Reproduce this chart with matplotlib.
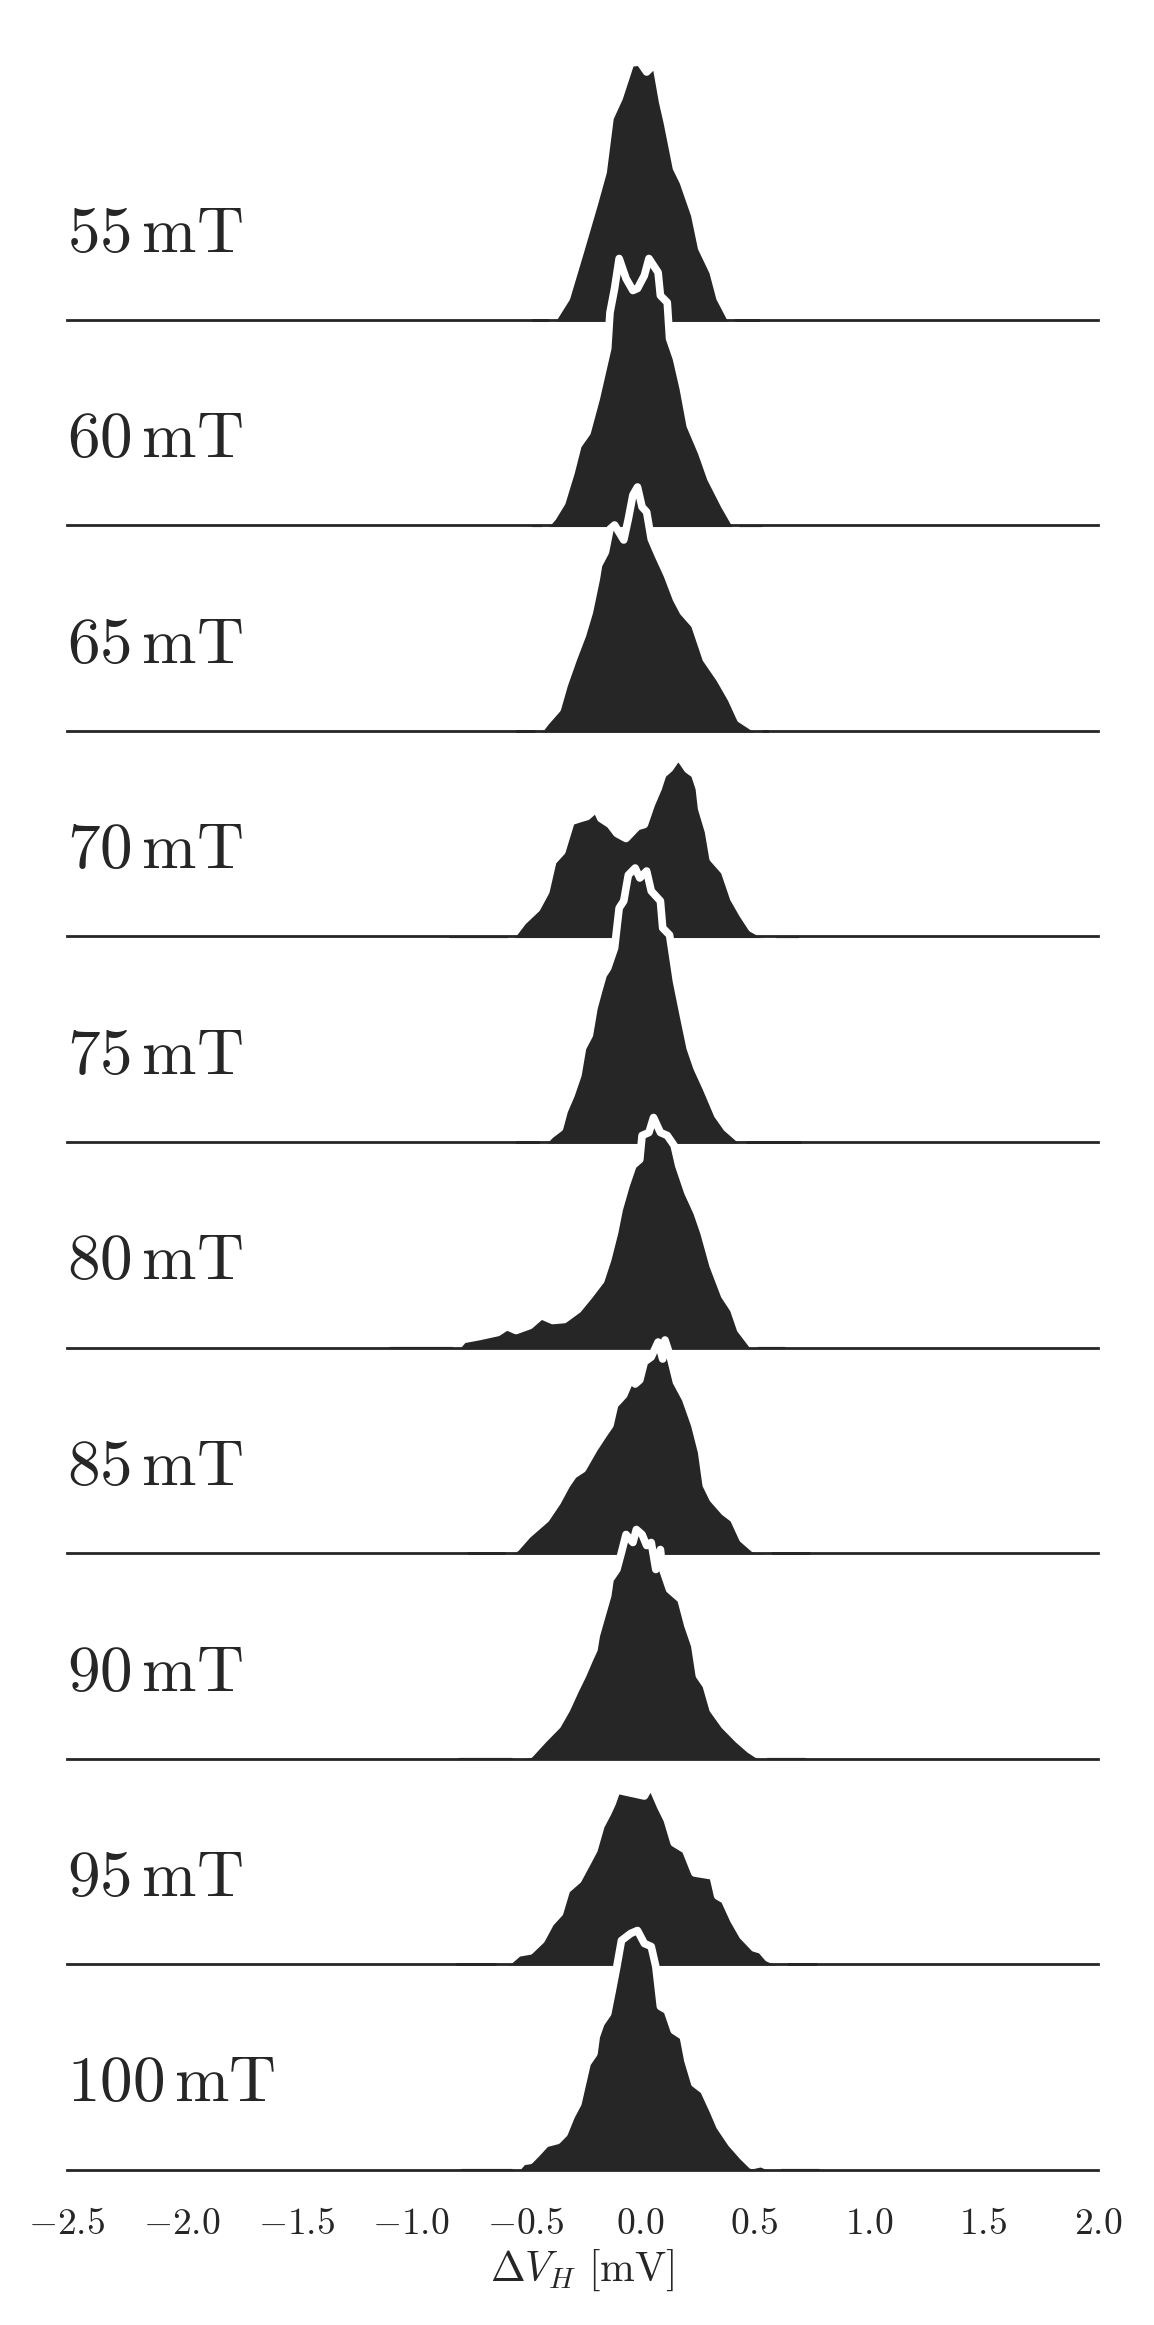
import matplotlib
matplotlib.use("Agg")
import matplotlib.pyplot as plt
import numpy as np

plt.rcParams['mathtext.fontset'] = 'cm'
plt.rcParams['font.family'] = 'serif'

INK = '#262626'

# field values (mT) and the density estimates
fields = [55, 60, 65, 70, 75, 80, 85, 90, 95, 100]

x55 = [-0.47, -0.38, -0.32, -0.26, -0.20, -0.16, -0.13, -0.09, -0.04, 0.00, 0.03,
       0.07, 0.10, 0.12, 0.16, 0.19, 0.24, 0.27, 0.32, 0.35, 0.40, 0.52]
y55 = [0, 0, 0.22, 0.68, 1.15, 1.48, 2.02, 2.22, 2.57, 2.58, 2.48,
       2.57, 2.18, 1.98, 1.52, 1.38, 1.05, 0.72, 0.48, 0.22, 0, 0]

x60 = [-0.47, -0.41, -0.38, -0.34, -0.30, -0.27, -0.23, -0.19, -0.17, -0.14,
       -0.13, -0.11, -0.09, -0.06, -0.03, -0.01, 0.02, 0.04, 0.08, 0.09,
       0.12, 0.13, 0.16, 0.19, 0.22, 0.27, 0.31, 0.37, 0.42, 0.53]
y60 = [0, 0, 0.08, 0.23, 0.53, 0.80, 0.93, 1.27, 1.47, 1.77,
       2.13, 2.37, 2.67, 2.47, 2.35, 2.37, 2.50, 2.67, 2.53, 2.30,
       2.23, 1.87, 1.67, 1.37, 1.00, 0.73, 0.47, 0.20, 0, 0]

x65 = [-0.54, -0.44, -0.41, -0.36, -0.33, -0.29, -0.25, -0.22, -0.19, -0.18,
       -0.15, -0.13, -0.11, -0.07, -0.05, -0.03, -0.01, 0.01, 0.03, 0.05,
       0.08, 0.12, 0.16, 0.19, 0.24, 0.29, 0.35, 0.40, 0.44, 0.52, 0.56]
y65 = [0, 0, 0.09, 0.22, 0.46, 0.72, 0.96, 1.19, 1.52, 1.66,
       1.79, 2.02, 2.06, 1.91, 2.12, 2.36, 2.44, 2.24, 2.19, 1.92,
       1.76, 1.56, 1.32, 1.19, 1.06, 0.72, 0.52, 0.32, 0.12, 0, 0]

x70 = [-0.83, -0.56, -0.51, -0.45, -0.41, -0.38, -0.34, -0.30, -0.26, -0.23,
       -0.19, -0.17, -0.13, -0.10, -0.06, -0.01, 0.02, 0.05, 0.08, 0.10,
       0.13, 0.16, 0.18, 0.21, 0.24, 0.26, 0.27, 0.30, 0.32, 0.37,
       0.41, 0.45, 0.49, 0.53, 0.58, 0.69]
y70 = [0, 0, 0.15, 0.28, 0.45, 0.75, 0.85, 1.15, 1.18, 1.20,
       1.28, 1.18, 1.12, 1.03, 0.98, 1.10, 1.12, 1.32, 1.48, 1.62,
       1.68, 1.78, 1.77, 1.67, 1.62, 1.48, 1.28, 1.05, 0.78, 0.65,
       0.38, 0.22, 0.08, 0.03, 0, 0]

x75 = [-0.54, -0.42, -0.39, -0.35, -0.33, -0.30, -0.27, -0.25, -0.22, -0.20,
       -0.18, -0.16, -0.14, -0.11, -0.09, -0.07, -0.05, -0.02, 0.00, 0.03,
       0.05, 0.09, 0.10, 0.13, 0.16, 0.19, 0.22, 0.25, 0.29, 0.34,
       0.38, 0.45, 0.70]
y75 = [0, 0, 0.07, 0.14, 0.31, 0.47, 0.67, 0.94, 1.07, 1.34,
       1.51, 1.67, 1.74, 1.94, 2.34, 2.41, 2.67, 2.74, 2.64, 2.71,
       2.51, 2.41, 2.14, 2.07, 1.61, 1.27, 0.94, 0.74, 0.54, 0.27,
       0.14, 0, 0]

x80 = [-1.09, -0.80, -0.77, -0.70, -0.62, -0.58, -0.54, -0.48, -0.43, -0.38,
       -0.33, -0.27, -0.22, -0.17, -0.14, -0.11, -0.09, -0.06, -0.03, 0.00,
       0.01, 0.04, 0.06, 0.09, 0.12, 0.15, 0.17, 0.21, 0.25, 0.28,
       0.32, 0.37, 0.41, 0.44, 0.50, 0.63]
y80 = [0, 0, 0.08, 0.11, 0.15, 0.21, 0.17, 0.22, 0.32, 0.27,
       0.28, 0.38, 0.52, 0.67, 0.88, 1.15, 1.38, 1.62, 1.82, 1.88,
       2.12, 2.15, 2.30, 2.15, 2.12, 2.02, 1.82, 1.55, 1.35, 1.15,
       0.82, 0.52, 0.38, 0.18, 0, 0]

x85 = [-0.75, -0.57, -0.54, -0.49, -0.45, -0.41, -0.36, -0.32, -0.29, -0.25,
       -0.20, -0.16, -0.13, -0.11, -0.07, -0.04, -0.02, 0.00, 0.02, 0.05,
       0.08, 0.10, 0.11, 0.13, 0.16, 0.20, 0.24, 0.27, 0.29, 0.32,
       0.37, 0.41, 0.45, 0.50, 0.54, 0.56, 0.74]
y85 = [0, 0, 0.05, 0.18, 0.26, 0.34, 0.51, 0.68, 0.78, 0.84,
       1.04, 1.18, 1.28, 1.48, 1.58, 1.74, 1.69, 1.73, 1.91, 1.96,
       2.11, 1.94, 2.13, 1.99, 1.71, 1.54, 1.28, 1.01, 0.68, 0.54,
       0.41, 0.34, 0.14, 0.04, 0.03, 0, 0]

x90 = [-0.79, -0.54, -0.52, -0.48, -0.42, -0.36, -0.32, -0.28, -0.25, -0.22,
       -0.20, -0.19, -0.17, -0.14, -0.13, -0.10, -0.08, -0.06, -0.03, -0.015,
       0.01, 0.03, 0.05, 0.07, 0.09, 0.10, 0.13, 0.18, 0.21, 0.24,
       0.26, 0.29, 0.32, 0.37, 0.43, 0.48, 0.54, 0.72]
y90 = [0, 0, 0.03, 0.04, 0.19, 0.33, 0.49, 0.69, 0.83, 0.99,
       1.09, 1.23, 1.39, 1.63, 1.79, 1.89, 2.06, 2.24, 2.16, 2.29,
       2.24, 2.13, 2.16, 1.89, 2.09, 1.89, 1.69, 1.59, 1.33, 1.13,
       0.83, 0.73, 0.49, 0.33, 0.19, 0.09, 0, 0]

x95 = [-0.80, -0.61, -0.57, -0.53, -0.48, -0.43, -0.39, -0.35, -0.32, -0.27,
       -0.23, -0.20, -0.17, -0.14, -0.12, -0.10, -0.04, 0.02, 0.04, 0.06,
       0.09, 0.12, 0.15, 0.20, 0.24, 0.32, 0.34, 0.37, 0.41, 0.45,
       0.50, 0.53, 0.56, 0.61, 0.63, 0.77]
y95 = [0, 0, 0.03, 0.11, 0.13, 0.24, 0.41, 0.51, 0.74, 0.84,
       1.01, 1.14, 1.38, 1.51, 1.61, 1.74, 1.71, 1.68, 1.76, 1.74,
       1.58, 1.44, 1.21, 1.14, 0.91, 0.88, 0.68, 0.64, 0.44, 0.28,
       0.16, 0.14, 0.06, 0.01, 0, 0]

x100 = [-0.78, -0.54, -0.51, -0.48, -0.45, -0.41, -0.36, -0.33, -0.30, -0.27,
        -0.25, -0.23, -0.20, -0.19, -0.17, -0.14, -0.12, -0.10, -0.08, -0.04,
        -0.01, 0.02, 0.05, 0.07, 0.09, 0.12, 0.15, 0.19, 0.21, 0.24,
        0.28, 0.32, 0.35, 0.40, 0.45, 0.49, 0.53, 0.58, 0.60, 0.78]
y100 = [0, 0, 0.08, 0.09, 0.16, 0.26, 0.29, 0.36, 0.53, 0.66,
        0.86, 1.06, 1.16, 1.33, 1.46, 1.56, 1.79, 2.03, 2.29, 2.36,
        2.39, 2.26, 2.23, 2.03, 1.63, 1.59, 1.39, 1.33, 1.09, 0.86,
        0.79, 0.59, 0.43, 0.26, 0.13, 0.04, 0.06, 0.01, 0, 0]

xs = [x55, x60, x65, x70, x75, x80, x85, x90, x95, x100]
ys = [y55, y60, y65, y70, y75, y80, y85, y90, y95, y100]

xticks = [-2.5, -2.0, -1.5, -1.0, -0.5, 0.0, 0.5, 1.0, 1.5, 2.0]

W, H = 1154, 2325
fig = plt.figure(figsize=(W / 100, H / 100), dpi=100)
ax = fig.add_axes([67 / W, 1 - 2169.5 / H, (1098 - 67) / W, (2169.5 - 40) / H])
ax.set_facecolor('none')

spacing = 2.055
n = len(fields)
for i, (f, x, y) in enumerate(zip(fields, xs, ys)):
    off = (n - 1 - i) * spacing
    x = np.asarray(x)
    y = np.asarray(y)
    z = 10 + 4 * i
    ax.fill_between(x, off, off + y, facecolor=INK, edgecolor=INK, lw=1.5,
                    zorder=z, clip_on=False)
    ax.plot(x[1:-1], off + y[1:-1], color='white', lw=5.5,
            solid_capstyle='round', zorder=z + 1, clip_on=False)
    ax.plot([-2.5, 2.0], [off, off], color=INK, lw=2, zorder=z + 2,
            clip_on=False)
    ax.text(-2.5, off + 0.68, r'$%d\,\mathrm{mT}$' % f, fontsize=47,
            color=INK, ha='left', va='baseline', zorder=z + 3)

ax.set_xlim(-2.5, 2.0)
ax.set_ylim(0, (2169.5 - 40) / 100)
ax.set_yticks([])
ax.set_xticks(xticks)
ax.set_xticklabels([r'$%.1f$' % t for t in xticks], fontsize=27, color=INK)
ax.tick_params(axis='x', length=0, pad=26)
ax.set_xlabel(r'$\Delta V_H\ [\mathrm{mV}]$', fontsize=30, color=INK, labelpad=4)
for s in ax.spines.values():
    s.set_visible(False)

fig.savefig('out.png', dpi=100, facecolor='white')
